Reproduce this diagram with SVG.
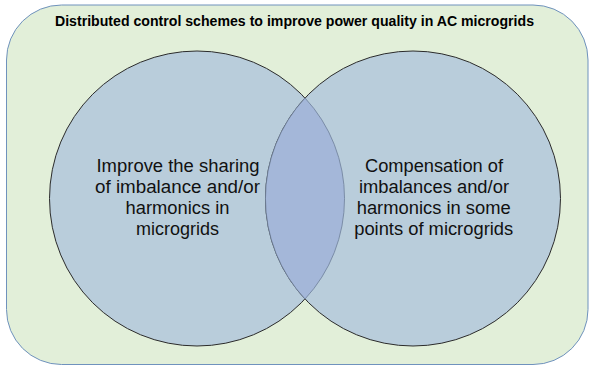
<svg xmlns="http://www.w3.org/2000/svg" width="589" height="366" viewBox="0 0 589 366">
<style>
.bg{fill:#e2efd9;stroke:#6f92bd;stroke-width:1}
.c{fill:#b9cddb;stroke:#2b2b2b;stroke-width:1}
.lens{fill:#a4b7d9;stroke:#6d7f99;stroke-width:0.8}
.t{font-family:"Liberation Sans",Arial,sans-serif;font-size:17.5px;fill:#111;text-anchor:middle}
.title{font-family:"Liberation Sans",Arial,sans-serif;font-size:15px;font-weight:bold;fill:#000;text-anchor:middle}
</style>
<g id="frame">
<rect class="bg" x="6.5" y="5" width="581.5" height="359.5" rx="55" ry="55"/>
<text class="title" x="294.5" y="26" textLength="479" lengthAdjust="spacingAndGlyphs">Distributed control schemes to improve power quality in AC microgrids</text>
</g>
<g id="left-circle">
<circle class="c" cx="197" cy="198.5" r="147.5"/>
</g>
<g id="right-circle">
<circle class="c" cx="413" cy="198.5" r="147.5"/>
</g>
<g id="overlap">
<path class="lens" d="M305,98 A147.5,147.5 0 0 1 305,299 A147.5,147.5 0 0 1 305,98 Z"/>
</g>
<g id="left-text">
<text class="t" x="178" y="172.3" textLength="163" lengthAdjust="spacingAndGlyphs">Improve the sharing</text>
<text class="t" x="177.5" y="193.3" textLength="165" lengthAdjust="spacingAndGlyphs">of imbalance and/or</text>
<text class="t" x="177.5" y="214.3" textLength="104" lengthAdjust="spacingAndGlyphs">harmonics in</text>
<text class="t" x="177.5" y="235.3" textLength="83" lengthAdjust="spacingAndGlyphs">microgrids</text>
</g>
<g id="right-text">
<text class="t" x="434" y="172.3" textLength="138" lengthAdjust="spacingAndGlyphs">Compensation of</text>
<text class="t" x="434" y="193.3" textLength="150" lengthAdjust="spacingAndGlyphs">imbalances and/or</text>
<text class="t" x="433.7" y="214.3" textLength="154" lengthAdjust="spacingAndGlyphs">harmonics in some</text>
<text class="t" x="433.7" y="235.3" textLength="159" lengthAdjust="spacingAndGlyphs">points of microgrids</text>
</g>
</svg>
